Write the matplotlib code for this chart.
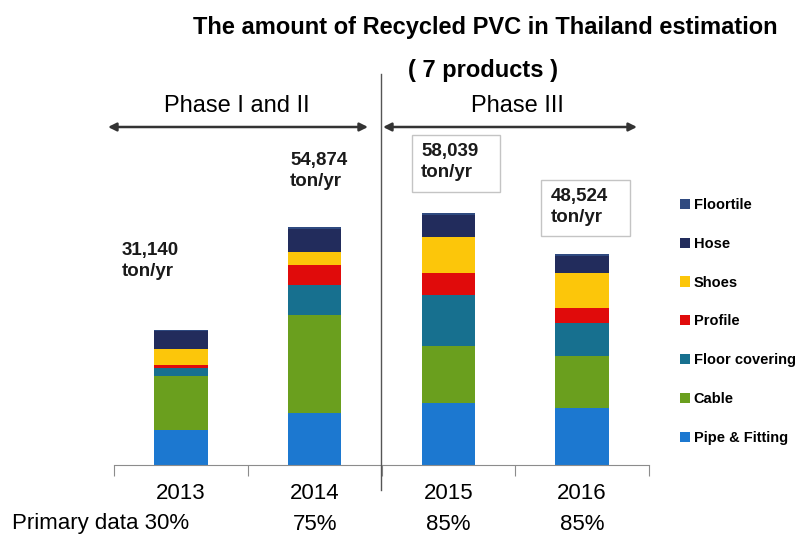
import matplotlib

matplotlib.use("Agg")
import matplotlib.pyplot as plt  # noqa: E402
import numpy as np  # noqa: E402
from matplotlib.patches import FancyArrowPatch, Rectangle  # noqa: E402
from matplotlib.lines import Line2D  # noqa: E402
from matplotlib.transforms import blended_transform_factory  # noqa: E402

# data (ton/yr per product)
years = ["2013", "2014", "2015", "2016"]
primary = ["30%", "75%", "85%", "85%"]
products = ["Pipe & Fitting", "Cable", "Floor covering", "Profile", "Shoes", "Hose", "Floortile"]
pipe = [8100, 11900, 14330, 13070]
cable = [12300, 22700, 13050, 12060]
floor_covering = [1900, 6900, 11750, 7540]
profile = [700, 4600, 5130, 3600]
shoes = [3700, 3100, 8280, 8070]
hose = [4200, 5300, 5100, 3900]
floortile = [240, 374, 399, 284]
colors = ["#1c78d0", "#6a9f1e", "#17708f", "#e00b0b", "#fcc60a", "#222c5c", "#2f4a80"]

W, H = 810, 537
plt.rcParams["font.family"] = ["Liberation Sans", "DejaVu Sans"]


def fx(x):
    return x / W


def fy(y):
    return 1 - y / H


fig = plt.figure(figsize=(W / 100, H / 100), dpi=100)
# axes: x 114..649 px, baseline at 465 px, 230.5 ton per px
ymax = 75000
ax_h = ymax / 230.5
ax = fig.add_axes([fx(114), fy(465), (649 - 114) / W, ax_h / H])

series = [pipe, cable, floor_covering, profile, shoes, hose, floortile]
x = np.arange(len(years))
bottom = np.zeros(len(years))
handles = []
for vals, name, c in zip(series, products, colors):
    b = ax.bar(x, vals, width=0.4, bottom=bottom, color=c, label=name)
    handles.append(b)
    bottom += np.array(vals)
totals = bottom.astype(int)

ax.set_xlim(-0.5, 3.5)
ax.set_ylim(0, ymax)
for s in ["left", "top", "right"]:
    ax.spines[s].set_visible(False)
ax.spines["bottom"].set_color("#8c8c8c")
ax.set_yticks([])
ax.set_xticks(np.arange(-0.5, 4, 1.0))
ax.set_xticklabels([])
ax.tick_params(axis="x", which="major", direction="out", length=8, color="#8c8c8c")
ax.set_xticks(x, minor=True)
ax.set_xticklabels(years, minor=True, fontsize=16)
ax.tick_params(axis="x", which="minor", length=0, pad=13)

# primary data row
fig.text(fx(12), fy(524), f"Primary data {primary[0]}", fontsize=16, va="center", ha="left")
row = blended_transform_factory(ax.transData, fig.transFigure)
for i in range(1, len(years)):
    ax.text(x[i], fy(524), primary[i], fontsize=16, va="center", ha="center", transform=row)

# totals
bold = dict(fontsize=13.5, fontweight="bold", va="top", ha="left", linespacing=1.3, color="#1a1a1a")
fig.text(fx(122), fy(242), f"{totals[0]:,}\nton/yr", **bold)
fig.text(fx(290), fy(152), f"{totals[1]:,}\nton/yr", **bold)
for (bx, by, bw, bh) in [(412, 135, 88, 57), (541, 180, 89, 56)]:
    fig.add_artist(Rectangle((fx(bx), fy(by + bh)), bw / W, bh / H, transform=fig.transFigure,
                             fc="white", ec="#c4c4c4", lw=1))
fig.text(fx(421), fy(143), f"{totals[2]:,}\nton/yr", **bold)
fig.text(fx(551), fy(188), f"{totals[3]:,}\nton/yr", **bold)

# legend
ax.legend(handles[::-1], products[::-1], loc="upper left",
          bbox_to_anchor=(fx(680), fy(198)), bbox_transform=fig.transFigure,
          frameon=False, handlelength=0.7, handleheight=0.7, handletextpad=0.25,
          labelspacing=1.7, borderaxespad=0, borderpad=0,
          prop=dict(weight="bold", size=10.5))

# title
fig.text(fx(485), fy(28), "The amount of Recycled PVC in Thailand estimation",
         fontsize=17, fontweight="bold", ha="center", va="center")
fig.text(fx(483), fy(70), "( 7 products )", fontsize=17, fontweight="bold", ha="center", va="center")

# phases
fig.text(fx(237), fy(106), "Phase I and II", fontsize=17, ha="center", va="center")
fig.text(fx(517), fy(106), "Phase III", fontsize=17, ha="center", va="center")
arrow = dict(arrowstyle="<|-|>", color="#333333", lw=1.8, mutation_scale=12, shrinkA=0, shrinkB=0)
fig.add_artist(FancyArrowPatch((fx(108), fy(127)), (fx(368), fy(127)),
                               transform=fig.transFigure, **arrow))
fig.add_artist(FancyArrowPatch((fx(383), fy(127)), (fx(637), fy(127)),
                               transform=fig.transFigure, **arrow))
fig.add_artist(Line2D([fx(381), fx(381)], [fy(74), fy(490)],
                      transform=fig.transFigure, color="#555555", lw=1))

fig.savefig("out.png", dpi=100)
plt.close(fig)
